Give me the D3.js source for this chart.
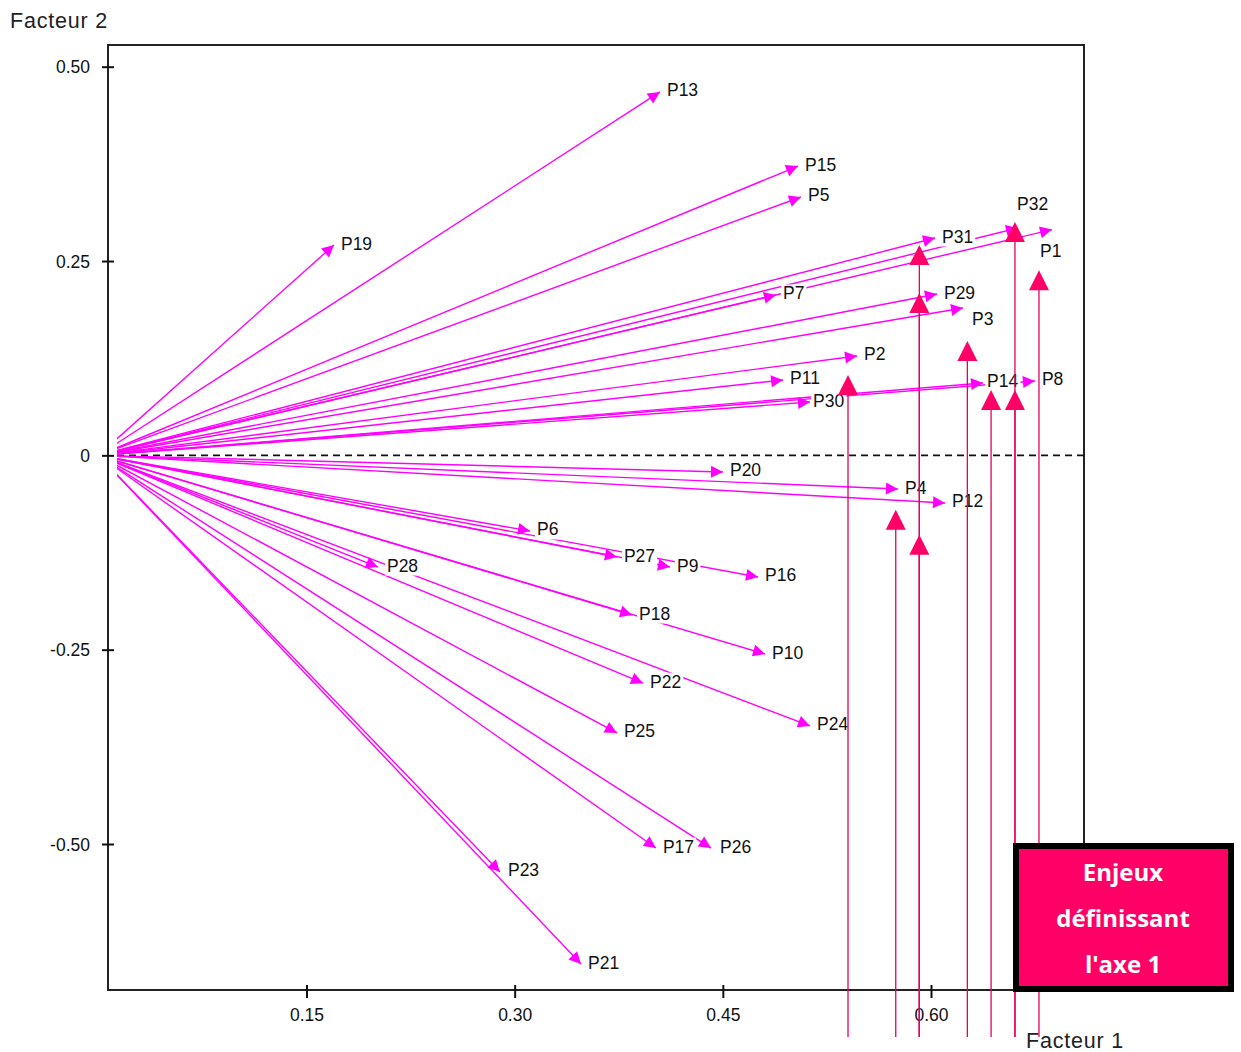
<!DOCTYPE html>
<html><head><meta charset="utf-8">
<script src="https://cdn.jsdelivr.net/npm/d3@7"></script>
<style>body{margin:0;background:#fff}svg{display:block}</style>
</head><body><svg id="c" width="1241" height="1052"></svg>
<script>
// ---- data ----
const labels   = ["P1","P2","P3","P4","P5","P6","P7","P8","P9","P10","P11","P12","P13","P14","P15","P16",
                  "P17","P18","P19","P20","P21","P22","P23","P24","P25","P26","P27","P28","P29","P30","P31","P32"];
const facteur1 = [0.6872,0.5467,0.6231,0.5762,0.5063,0.3111,0.4883,0.6749,0.4119,0.4804,0.4934,0.6101,0.4047,0.6375,0.5042,0.4754,
                  0.4018,0.3846,0.1698,0.4501,0.3478,0.3925,0.2894,0.5128,0.3737,0.4415,0.3737,0.2015,0.6043,0.5128,0.6029,0.6627];
const facteur2 = [0.2904,0.1279,0.1896,-0.0433,0.3324,-0.0973,0.2063,0.0957,-0.1437,-0.2556,0.0970,-0.0613,0.4675,0.0931,0.3722,-0.1565,
                  -0.5052,-0.2054,0.2706,-0.0214,-0.6544,-0.2931,-0.5360,-0.3481,-0.3571,-0.5052,-0.1308,-0.1437,0.2075,0.0686,0.2796,0.2925];
const enjeuxX  = [0.5402,0.5746,0.5916,0.5916,0.5916,0.6262,0.6433,0.6605,0.6605,0.6778];
const enjeuxY  = [0.0905,-0.0828,0.2578,0.1961,-0.1150,0.1343,0.0712,0.2873,0.0712,0.2254];
const xTicks = [0.15,0.30,0.45,0.60];
const xTickLabels = ["0.15","0.30","0.45","0.60"];
const yTicks = [0.50,0.25,0,-0.25,-0.50];
const yTickLabels = ["0.50","0.25","0","-0.25","-0.50"];
const legendLines = ["Enjeux","définissant","l'axe 1"];
const axisTitleX = "Facteur 1", axisTitleY = "Facteur 2";

// ---- layout ----
const svg = d3.select("#c");
const x = d3.scaleLinear().domain([0.15,0.60]).range([306.5,931]);
const y = d3.scaleLinear().domain([-0.5,0.5]).range([844,66.7]);
const frame = {l:108,t:45,r:1084,b:990};
const clipLeft = 117;
const MAG = "#ff00ff", RED = "#ff0066", STEM = "#e6005c";
const FONT = "'Liberation Sans', Arial, sans-serif";

// label nudges (pixels) for crowded labels
const nudge = {P3:[9,13],P32:[-1,-22],P1:[-12,23],P30:[3,0],P14:[4,0],P28:[9,0],P26:[9,0],P23:[8,0]};

svg.append("defs").append("clipPath").attr("id","plotclip")
  .append("rect").attr("x",clipLeft).attr("y",frame.t).attr("width",frame.r-clipLeft).attr("height",frame.b-frame.t);

// frame
svg.append("rect").attr("x",frame.l).attr("y",frame.t).attr("width",frame.r-frame.l).attr("height",frame.b-frame.t)
  .attr("fill","none").attr("stroke","#222").attr("stroke-width",2);

// y ticks
const yAxis = d3.axisLeft(y).tickValues(yTicks).tickSize(0).tickFormat((d,i)=>yTickLabels[i]);
const gy = svg.append("g").attr("transform",`translate(${frame.l},0)`).call(yAxis);
gy.select(".domain").remove();
gy.selectAll(".tick line").remove();
gy.selectAll(".tick").append("line").attr("x1",-6).attr("x2",6).attr("stroke","#111").attr("stroke-width",2);
gy.selectAll(".tick text").attr("x",-18).attr("font-family",FONT).attr("font-size",17.5).attr("fill","#111").attr("dy","0.35em");

// x ticks
const xAxis = d3.axisBottom(x).tickValues(xTicks).tickSize(0).tickFormat((d,i)=>xTickLabels[i]);
const gx = svg.append("g").attr("transform",`translate(0,${frame.b})`).call(xAxis);
gx.select(".domain").remove();
gx.selectAll(".tick line").remove();
gx.selectAll(".tick").append("line").attr("y1",-5).attr("y2",8).attr("stroke","#111").attr("stroke-width",2);
gx.selectAll(".tick text").attr("y",31).attr("dy",0).attr("font-family",FONT).attr("font-size",17.5).attr("fill","#111");

// axis titles
svg.append("text").attr("x",10).attr("y",28).text(axisTitleY)
  .attr("font-family",FONT).attr("font-size",21.5).attr("fill","#222").attr("letter-spacing",0.8);
svg.append("text").attr("x",1026).attr("y",1048).text(axisTitleX)
  .attr("font-family",FONT).attr("font-size",21.5).attr("fill","#222").attr("letter-spacing",0.8);

// dashed zero line
svg.append("line").attr("x1",clipLeft).attr("x2",frame.r).attr("y1",y(0)).attr("y2",y(0))
  .attr("stroke","#111").attr("stroke-width",1.6).attr("stroke-dasharray","7,5");

// arrows
const data = labels.map((l,i)=>({label:l,f1:facteur1[i],f2:facteur2[i]}));
const gArr = svg.append("g").attr("clip-path","url(#plotclip)");
gArr.selectAll("line.vec").data(data).enter().append("line").attr("class","vec")
  .attr("x1",x(0)).attr("y1",y(0))
  .attr("x2",d=>x(d.f1)).attr("y2",d=>y(d.f2))
  .attr("stroke",MAG).attr("stroke-width",1.4);
// arrowheads
gArr.selectAll("path.head").data(data).enter().append("path").attr("class","head")
  .attr("d",d=>{
    const tx=x(d.f1), ty=y(d.f2);
    const a=Math.atan2(ty-y(0), tx-x(0));
    const L=12, W=6;
    const bx=tx-L*Math.cos(a), by=ty-L*Math.sin(a);
    const px=-Math.sin(a)*W, py=Math.cos(a)*W;
    return `M${tx},${ty}L${bx+px},${by+py}L${bx-px},${by-py}Z`;
  }).attr("fill",MAG);

// labels with white background
const gLab = svg.append("g");
data.forEach(d=>{
  const n = nudge[d.label] || [7,0];
  const tx = x(d.f1)+n[0], ty = y(d.f2)+n[1];
  const g = gLab.append("g");
  const t = g.append("text").attr("x",tx).attr("y",ty+4.5).text(d.label)
    .attr("font-family",FONT).attr("font-size",17.5).attr("fill","#111");
  const bb = t.node().getBBox();
  g.insert("rect","text").attr("x",bb.x-2).attr("y",bb.y+1).attr("width",bb.width+4).attr("height",bb.height-1).attr("fill","#fff");
});

// enjeux: stems and triangles
const stemBottom = 1037;
const enj = enjeuxX.map((v,i)=>({x:v,y:enjeuxY[i]}));
svg.selectAll("line.stem").data(enj).enter().append("line").attr("class","stem")
  .attr("x1",d=>x(d.x)).attr("x2",d=>x(d.x)).attr("y1",d=>y(d.y)+9).attr("y2",stemBottom)
  .attr("stroke",STEM).attr("stroke-width",1.3);
svg.selectAll("path.tri").data(enj).enter().append("path").attr("class","tri")
  .attr("d",d=>{const cx=x(d.x), cy=y(d.y); return `M${cx},${cy-10}L${cx+10},${cy+10}L${cx-10},${cy+10}Z`;})
  .attr("fill",RED);

// legend box
svg.append("rect").attr("x",1016).attr("y",846).attr("width",215).attr("height",143)
  .attr("fill",RED).attr("stroke","#000").attr("stroke-width",6);
svg.selectAll("text.leg").data(legendLines).enter().append("text").attr("class","leg")
  .attr("x",1123).attr("y",(d,i)=>881+i*46).attr("text-anchor","middle")
  .attr("font-family","'Open Sans', sans-serif").attr("font-weight","bold").attr("font-size",24)
  .attr("fill","#fff").text(d=>d);
</script></body></html>
